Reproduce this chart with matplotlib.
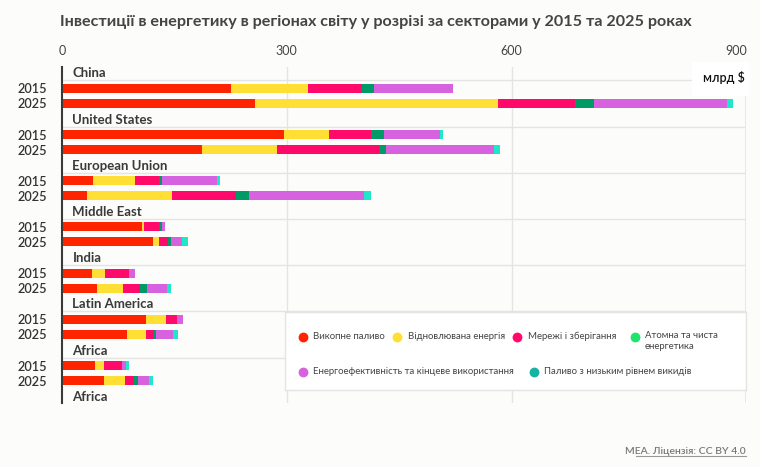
import matplotlib
matplotlib.use("Agg")
import matplotlib.pyplot as plt
from matplotlib.patches import Rectangle
import numpy as np

# ---- data (bn $) ----
regions = ['China', 'United States', 'European Union', 'Middle East', 'India', 'Latin America', 'Africa']
years = ['2015', '2025']
sectors = ['Викопне паливо', 'Відновлювана енергія', 'Мережі і зберігання',
           'Атомна та чиста\nенергетика', 'Енергоефективність та кінцеве використання',
           'Паливо з низьким рівнем викидів']
fossil_2015 = [226, 296, 42, 107, 40, 112, 44]
fossil_2025 = [258, 187, 34, 121, 47, 87, 56]
renew_2015 = [102, 60, 55, 2, 17, 27, 12]
renew_2025 = [324, 100, 113, 9, 35, 25, 28]
grids_2015 = [72, 57, 32, 20, 33, 15, 24]
grids_2025 = [103, 136, 85, 12, 22, 11, 12]
nuclear_2015 = [17, 17, 4, 4, 0, 0, 0]
nuclear_2025 = [25, 10, 18, 4, 9, 3, 5]
effic_2015 = [105, 75, 74, 5, 8, 7, 6]
effic_2025 = [177, 143, 153, 14, 27, 22, 15]
lowem_2015 = [0, 3, 4, 0, 0, 0, 3]
lowem_2025 = [9, 9, 9, 8, 5, 7, 5]
x_ticks = [0, 300, 600, 900]

bar_colors = ['#ff2400', '#ffdf33', '#ff0a6a', '#009a66', '#d762df', '#1ee8c8']
legend_colors = ['#ff2400', '#ffdf33', '#ff0a6a', '#1fe36a', '#d762df', '#16b2a2']

vals_2015 = [fossil_2015, renew_2015, grids_2015, nuclear_2015, effic_2015, lowem_2015]
vals_2025 = [fossil_2025, renew_2025, grids_2025, nuclear_2025, effic_2025, lowem_2025]

W, H = 760, 467
bg = '#fcfcfa'
fig = plt.figure(figsize=(W / 100, H / 100), dpi=100, facecolor=bg)
FONT = 'Lato'

ax_l, ax_r, ax_t, ax_b = 62, 746, 67, 403
ax = fig.add_axes([ax_l / W, 1 - ax_b / H, (ax_r - ax_l) / W, (ax_b - ax_t) / H], facecolor=bg)

px_per_unit = (511.5 - 62) / 600
xmax = (ax_r - ax_l) / px_per_unit
ax.set_xlim(0, xmax)

gap = 46.2
off = 15 / gap
n = len(regions)
ax.set_ylim(6.81, -0.461)

bh = 9 / gap
for vals, dy in ((vals_2015, 0.0), (vals_2025, off)):
    left = np.zeros(n)
    ypos = np.arange(n) + dy
    for k, v in enumerate(vals):
        v = np.array(v, dtype=float)
        ax.barh(ypos, v, left=left, height=bh, color=bar_colors[k], zorder=3, linewidth=0)
        left += v

grid_c = '#e4e4e2'
for g in range(n + 1):
    ax.axhline(g - 8 / gap, color=grid_c, lw=1, zorder=1)
for xv in (300, 600):
    ax.axvline(xv, color=grid_c, lw=1, zorder=1)
ax.axvline(xmax, color=grid_c, lw=1.2, zorder=1)

labels = regions + ['Africa']
for g, name in enumerate(labels):
    ax.text((72.5 - 62) / (ax_r - ax_l), g - off, name, transform=ax.get_yaxis_transform(),
            ha='left', va='center', fontsize=9.5, fontweight='bold', color='#3a3a3a',
            family=FONT, zorder=4)

yt = []
ytl = []
for g in range(n):
    yt += [g, g + off]
    ytl += years
ax.set_yticks(yt)
ax.set_yticklabels(ytl, fontsize=9.2, color='#333333', family=FONT, fontweight='semibold')
ax.tick_params(axis='y', length=0, pad=10.5)

ax.xaxis.tick_top()
ax.set_xticks(x_ticks)
ax.set_xticklabels([str(t) for t in x_ticks], fontsize=9, color='#444444', family=FONT)
ax.tick_params(axis='x', length=0, pad=7)

for s in ('top', 'right', 'bottom'):
    ax.spines[s].set_visible(False)
ax.spines['left'].set_color('#3a3a3a')
ax.spines['left'].set_linewidth(1.5)
ax.spines['left'].set_zorder(5)

# unit label with white box
fig.add_artist(Rectangle((692 / W, 1 - 96 / H), 58 / W, 34 / H, transform=fig.transFigure,
                         facecolor='white', edgecolor='none', zorder=9))
fig.text(724 / W, 1 - 78 / H, 'млрд $', ha='center', va='center', fontsize=9,
         color='#111111', family=FONT, fontweight='semibold', zorder=10)

# title
fig.text(60 / W, 1 - 22 / H,
         'Інвестиції в енергетику в регіонах світу у розрізі за секторами у 2015 та 2025 роках',
         ha='left', va='center', fontsize=11.6, fontweight='bold', color='#444444', family=FONT)

# legend box
lx0, lx1, ly0, ly1 = 285, 746, 312, 390
lax = fig.add_axes([lx0 / W, 1 - ly1 / H, (lx1 - lx0) / W, (ly1 - ly0) / H], facecolor='white')
lax.set_xlim(lx0, lx1)
lax.set_ylim(ly1, ly0)
lax.set_xticks([])
lax.set_yticks([])
for s in lax.spines.values():
    s.set_color('#e4e4e2')
    s.set_linewidth(1)
entries = [(302.7, 336.7, 0), (397.3, 336.7, 1), (517.3, 336.7, 2), (634.5, 336.7, 3),
           (302.7, 371.7, 4), (534, 371.7, 5)]
for x, y, k in entries:
    lax.scatter([x], [y], s=50, color=legend_colors[k], linewidths=0, zorder=3)
    va = 'top' if '\n' in sectors[k] else 'center'
    yy = y - 6 if va == 'top' else y
    lax.text(x + 10.5, yy, sectors[k], ha='left', va=va, fontsize=6.9, color='#444444',
             family=FONT, linespacing=1.3)

# source
fig.text(746 / W, 1 - 451 / H, 'МЕА. Ліцензія: CC BY 4.0', ha='right', va='center',
         fontsize=7.5, color='#777777', family=FONT, fontweight='semibold')
fig.add_artist(plt.Line2D([636 / W, 746 / W], [1 - 456 / H, 1 - 456 / H], color='#999999', lw=0.8))

fig.savefig('out.png', dpi=100, facecolor=bg)
